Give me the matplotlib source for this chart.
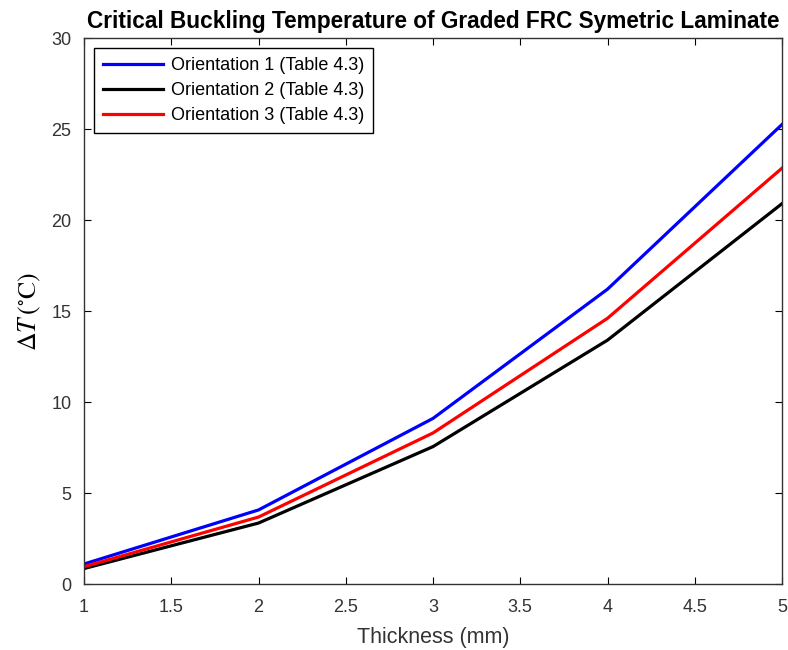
import matplotlib
matplotlib.use('Agg')
import matplotlib.pyplot as plt

# thickness values (mm) and critical buckling temperature rise
thickness = [1, 2, 3, 4, 5]
orient1 = [1.1, 4.07, 9.1, 16.2, 25.25]
orient2 = [0.85, 3.35, 7.55, 13.4, 20.9]
orient3 = [0.95, 3.68, 8.3, 14.6, 22.85]

plt.rcParams['font.family'] = 'Liberation Sans'
plt.rcParams['mathtext.fontset'] = 'stix'

fig = plt.figure(figsize=(7.88, 6.5), dpi=100)
ax = fig.add_axes([0.1066, 0.1015, 0.8858, 0.84])

ax.plot(thickness, orient1, color='#0000ff', lw=2.3, label='Orientation 1 (Table 4.3)')
ax.plot(thickness, orient2, color='black', lw=2.3, label='Orientation 2 (Table 4.3)')
ax.plot(thickness, orient3, color='#ff0000', lw=2.3, label='Orientation 3 (Table 4.3)')

ax.set_xlim(1, 5)
ax.set_ylim(0, 30)
ax.set_xticks([1, 1.5, 2, 2.5, 3, 3.5, 4, 4.5, 5])
ax.set_xticklabels(['1', '1.5', '2', '2.5', '3', '3.5', '4', '4.5', '5'])
ax.set_yticks(range(0, 31, 5))
ax.tick_params(direction='in', top=True, right=True, labelsize=13,
               labelcolor='#333333', length=5, width=0.8)
ax.tick_params(axis='x', pad=11)
ax.tick_params(axis='y', pad=9)
for sp in ax.spines.values():
    sp.set_color('#333333')
    sp.set_linewidth(1.0)

ax.set_xlabel('Thickness (mm)', fontsize=15.5, color='#333333', labelpad=8)
ax.set_ylabel(r'$\Delta T\,(^{\circ}\mathrm{C})$', fontsize=18.5, labelpad=6)
ax.set_title('Critical Buckling Temperature of Graded FRC Symetric Laminate',
             fontsize=16.3, fontweight='bold', pad=7)

leg = ax.legend(loc='upper left', fontsize=13, fancybox=False, framealpha=1,
                edgecolor='black', handlelength=3.3, borderaxespad=0.55,
                labelspacing=0.45, handletextpad=0.45, borderpad=0.5)
leg.get_frame().set_linewidth(1.0)

fig.savefig('out.png', dpi=100)
